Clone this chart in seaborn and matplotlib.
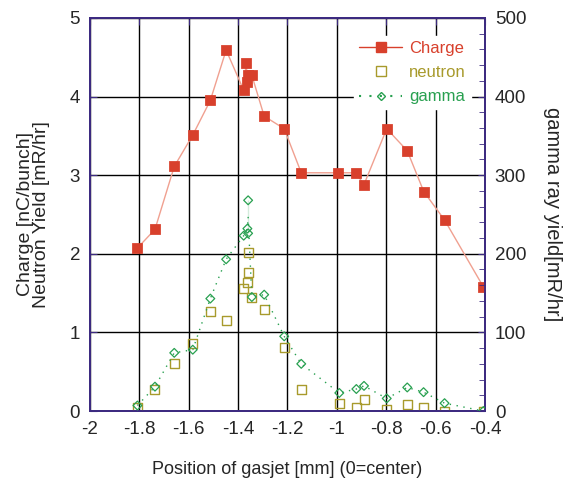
import pandas as pd
import matplotlib.pyplot as plt
import seaborn as sns
from matplotlib.lines import Line2D
from matplotlib.ticker import MultipleLocator

# data
charge_x = [-1.808, -1.736, -1.658, -1.583, -1.512, -1.448, -1.377, -1.367, -1.362, -1.36, -1.344,
            -1.294, -1.213, -1.144, -0.994, -0.924, -0.89, -0.798, -0.715, -0.648, -0.564, -0.407]
charge_y = [2.07, 2.31, 3.11, 3.51, 3.95, 4.59, 4.08, 4.43, 4.19, 4.27, 4.27,
            3.75, 3.59, 3.03, 3.03, 3.03, 2.88, 3.59, 3.31, 2.79, 2.43, 1.58]

neutron_x = [-1.807, -1.736, -1.658, -1.583, -1.513, -1.448, -1.359, -1.359, -1.362, -1.377, -1.344,
             -1.294, -1.213, -1.144, -0.99, -0.921, -0.89, -0.798, -0.715, -0.649, -0.564, -0.407]
neutron_y = [0.05, 0.28, 0.60, 0.865, 1.26, 1.145, 2.01, 1.76, 1.63, 1.56, 1.45,
             1.285, 0.805, 0.27, 0.093, 0.05, 0.148, 0.02, 0.085, 0.04, 0.0, 0.0]

gamma_x = [-1.807, -1.736, -1.658, -1.583, -1.512, -1.448, -1.377, -1.362, -1.359, -1.359, -1.344,
           -1.294, -1.213, -1.144, -0.99, -0.921, -0.89, -0.798, -0.715, -0.649, -0.564, -0.407]
gamma_y = [7, 31, 74, 78, 143, 193, 223, 232, 226, 268, 145,
           148, 95, 60, 23, 28, 32, 16, 30, 24, 10, 0]

charge = pd.DataFrame({'x': charge_x, 'y': charge_y})
neutron = pd.DataFrame({'x': neutron_x, 'y': neutron_y})
gamma = pd.DataFrame({'x': gamma_x, 'y': gamma_y})

sns.set_style('white')
plt.rcParams['font.family'] = ['Liberation Sans', 'DejaVu Sans']

red = '#d8402c'
olive = '#a89a2c'
green = '#28a050'
purple = '#3c2a80'

fig, ax = plt.subplots(figsize=(5.68, 4.83), dpi=100)
fig.subplots_adjust(left=0.158, right=0.854, top=0.963, bottom=0.149)

sns.lineplot(data=charge, x='x', y='y', ax=ax, sort=False, color='#f0a090', linewidth=1, zorder=3)
sns.scatterplot(data=charge, x='x', y='y', ax=ax, marker='s', s=48, color=red, edgecolor=red, zorder=4)
sns.scatterplot(data=neutron, x='x', y='y', ax=ax, marker='s', s=42, facecolor='none',
                edgecolor=olive, linewidth=1, zorder=4)

ax.set_xlim(-2, -0.4)
ax.set_ylim(0, 5)
ax.set_xticks([-2, -1.8, -1.6, -1.4, -1.2, -1, -0.8, -0.6, -0.4])
ax.set_xticklabels(['-2', '-1.8', '-1.6', '-1.4', '-1.2', '-1', '-0.8', '-0.6', '-0.4'])
ax.set_yticks(range(6))
ax.grid(True, color='black', linewidth=1)
ax.set_axisbelow(True)
ax.tick_params(direction='in', length=5, color=purple, labelsize=13.5, top=True, pad=7)
for sp in ax.spines.values():
    sp.set_color(purple)
    sp.set_linewidth(1.3)
ax.set_xlabel('Position of gasjet [mm] (0=center)', fontsize=13, labelpad=17)
ax.set_ylabel('Charge [nC/bunch]\nNeutron Yield [mR/hr]', fontsize=14, labelpad=14, linespacing=0.95)

ax2 = ax.twinx()
sns.lineplot(data=gamma, x='x', y='y', ax=ax2, sort=False, color=green, linewidth=1,
             linestyle=(0, (1, 4)), zorder=3)
sns.scatterplot(data=gamma, x='x', y='y', ax=ax2, marker='D', s=20, facecolor='none',
                edgecolor=green, linewidth=0.9, zorder=4)
ax2.set_ylim(0, 500)
ax2.set_yticks(range(0, 501, 100))
ax2.yaxis.set_minor_locator(MultipleLocator(20))
ax2.tick_params(which='both', direction='in', color=purple, labelsize=13.5, pad=7)
ax2.tick_params(which='major', length=5)
ax2.tick_params(which='minor', length=4)
ax2.set_ylabel('gamma ray yield[mR/hr]', fontsize=14.5, rotation=270, labelpad=26)
ax2.set_xlabel('')
for sp in ax2.spines.values():
    sp.set_color(purple)
    sp.set_linewidth(1.3)

handles = [
    Line2D([], [], color=red, marker='s', markersize=6.5, linewidth=1),
    Line2D([], [], color=olive, marker='s', markersize=6.5, markerfacecolor='none', linestyle='none'),
    Line2D([], [], color=green, marker='D', markersize=4.5, markerfacecolor='none', linestyle=(0, (1, 4))),
]
leg = ax2.legend(handles, ['Charge', 'neutron', 'gamma'], loc='upper right', bbox_to_anchor=(0.985, 0.975),
                 frameon=True, fancybox=False, edgecolor='white', framealpha=1, fontsize=12,
                 handlelength=2.6, handletextpad=0.4, labelspacing=0.55, borderpad=0.3)
for t, c in zip(leg.get_texts(), [red, olive, green]):
    t.set_color(c)

plt.savefig('out.png', dpi=100)
